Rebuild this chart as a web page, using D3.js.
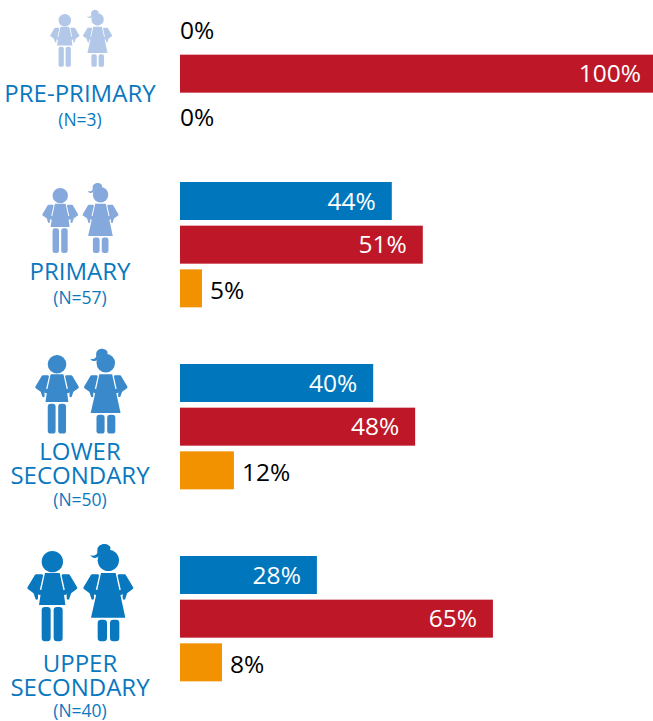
<!DOCTYPE html>
<html>
<head>
<meta charset="utf-8">
<script src="https://cdn.jsdelivr.net/npm/d3@7"></script>
<style>
  html, body { margin: 0; padding: 0; background: #fff; overflow: hidden; }
  text { font-family: "Open Sans", sans-serif; }
  .figure { fill: currentColor; }
  .figure .soft { stroke: currentColor; stroke-width: 8; stroke-linejoin: round; }
</style>
</head>
<body>
<div id="chart"></div>
<script>
// Data
const levels = ["PRE-PRIMARY", "PRIMARY", "LOWER SECONDARY", "UPPER SECONDARY"];
const levelLines = [["PRE-PRIMARY"], ["PRIMARY"], ["LOWER", "SECONDARY"], ["UPPER", "SECONDARY"]];
const sampleSizes = [3, 57, 50, 40];
const series = ["blue", "red", "orange"];
// printed percentages
const blueLabels = [0, 44, 40, 28];
const redLabels = [100, 51, 48, 65];
const orangeLabels = [0, 5, 12, 8];
// bar lengths as measured, the original bars run a little off their labels
const blueLengths = [0, 44.4, 40.5, 28.7];
const redLengths = [100, 50.9, 49.3, 65.6];
const orangeLengths = [0, 4.6, 11.3, 8.8];

// Layout
const width = 653;
const height = 721;
const colors = {blue: "#0077bd", red: "#be1727", orange: "#f39200"};
const figureColors = ["#b3c8e8", "#85a9dc", "#3a89cb", "#0a78bf"];
const groupTops = [11, 182, 364, 556];
const titleBaselines = [[102], [280], [460, 484], [672, 696]];
const countBaselines = [126, 304, 506, 717];
const figureBoxes = [
    {x: 50, y: 14, k: 0.585},
    {x: 42, y: 188, k: 0.72},
    {x: 35, y: 355, k: 0.87},
    {x: 27, y: 551, k: 1}
];

const svg = d3.select("#chart")
    .append("svg")
    .attr("width", width)
    .attr("height", height)
    .style("display", "block");

const x = d3.scaleLinear().domain([0, 100]).range([180, 657]);
const rowY = d3.scaleBand().domain(series).range([0, 125.5]).paddingInner(0.126).paddingOuter(0);
const barHeight = 38;

const lengths = {blue: blueLengths, red: redLengths, orange: orangeLengths};
const labels = {blue: blueLabels, red: redLabels, orange: orangeLabels};

// Bars and their labels
levels.forEach((level, i) => {
    const g = svg.append("g")
        .attr("class", "level")
        .attr("transform", `translate(0,${groupTops[i]})`);

    series.forEach(s => {
        const len = lengths[s][i];
        const y = rowY(s);
        const inside = len > 20;
        // orange labels sit a little under the middle of their bars
        const dy = s === "orange" ? (len > 0 ? 11 : 9) : 8.5;

        if (len > 0) {
            g.append("rect")
                .attr("x", x(0))
                .attr("y", y)
                .attr("width", x(len) - x(0))
                .attr("height", barHeight)
                .attr("fill", colors[s]);
        }

        g.append("text")
            .attr("x", inside ? x(len) - 16 : (len > 0 ? x(len) + 8 : x(0)))
            .attr("y", y + barHeight / 2 + dy)
            .attr("text-anchor", inside ? "end" : "start")
            .attr("fill", inside ? "#fff" : "#000")
            .style("font-size", "24.5px")
            .text(labels[s][i] + "%");
    });
});

// Left hand figures, drawn once and scaled, coordinates are in the figure's own space
const boyArm = "M48,108 L65,108 L56,148 L50,158 L50,176 L44,158 L26,145 Z";
const girlArm = "M216,108 L233,108 L224,148 L218,158 L218,176 L212,158 L194,145 Z";

function drawFigures(box, color) {
    const s = box.k / 3;
    const g = svg.append("g")
        .attr("class", "figure")
        .attr("color", color)
        .attr("transform", `translate(${box.x - 21 * s},${box.y - 34 * s}) scale(${s})`);

    // boy
    g.append("circle").attr("cx", 97).attr("cy", 66).attr("r", 32);
    g.append("path").attr("d", "M75,100 L119,100 L130,150 L136,196 L57,196 L64,150 Z");
    g.append("path").attr("class", "soft").attr("d", boyArm);
    g.append("path").attr("class", "soft").attr("d", boyArm).attr("transform", "translate(194,0) scale(-1,1)");
    g.append("circle").attr("cx", 60).attr("cy", 158).attr("r", 8);
    g.append("circle").attr("cx", 134).attr("cy", 158).attr("r", 8);
    g.append("rect").attr("x", 65).attr("y", 202).attr("width", 27).attr("height", 103).attr("rx", 10);
    g.append("rect").attr("x", 101).attr("y", 202).attr("width", 27).attr("height", 103).attr("rx", 10);

    // girl
    g.append("circle").attr("cx", 265).attr("cy", 62).attr("r", 32);
    g.append("path").attr("d", "M232,30 C232,18 246,11 256,13 C268,15 275,24 270,31 L250,36 C244,38 240,44 236,50 C228,58 216,56 211,46 C218,50 228,48 232,40 Z");
    g.append("path").attr("d", "M243,100 L287,100 L298,150 L316,234 L213,234 L232,150 Z");
    g.append("path").attr("class", "soft").attr("d", girlArm);
    g.append("path").attr("class", "soft").attr("d", girlArm).attr("transform", "translate(530,0) scale(-1,1)");
    g.append("circle").attr("cx", 228).attr("cy", 158).attr("r", 8);
    g.append("circle").attr("cx", 302).attr("cy", 158).attr("r", 8);
    g.append("rect").attr("x", 233).attr("y", 240).attr("width", 28).attr("height", 65).attr("rx", 10);
    g.append("rect").attr("x", 270).attr("y", 240).attr("width", 28).attr("height", 65).attr("rx", 10);
}

levels.forEach((level, i) => {
    drawFigures(figureBoxes[i], figureColors[i]);

    levelLines[i].forEach((line, j) => {
        svg.append("text")
            .attr("x", 80)
            .attr("y", titleBaselines[i][j])
            .attr("text-anchor", "middle")
            .attr("fill", "#0a78bf")
            .style("font-size", "24px")
            .text(line);
    });

    svg.append("text")
        .attr("x", 80)
        .attr("y", countBaselines[i])
        .attr("text-anchor", "middle")
        .attr("fill", "#0a78bf")
        .style("font-size", "17.5px")
        .text(`(N=${sampleSizes[i]})`);
});
</script>
</body>
</html>
